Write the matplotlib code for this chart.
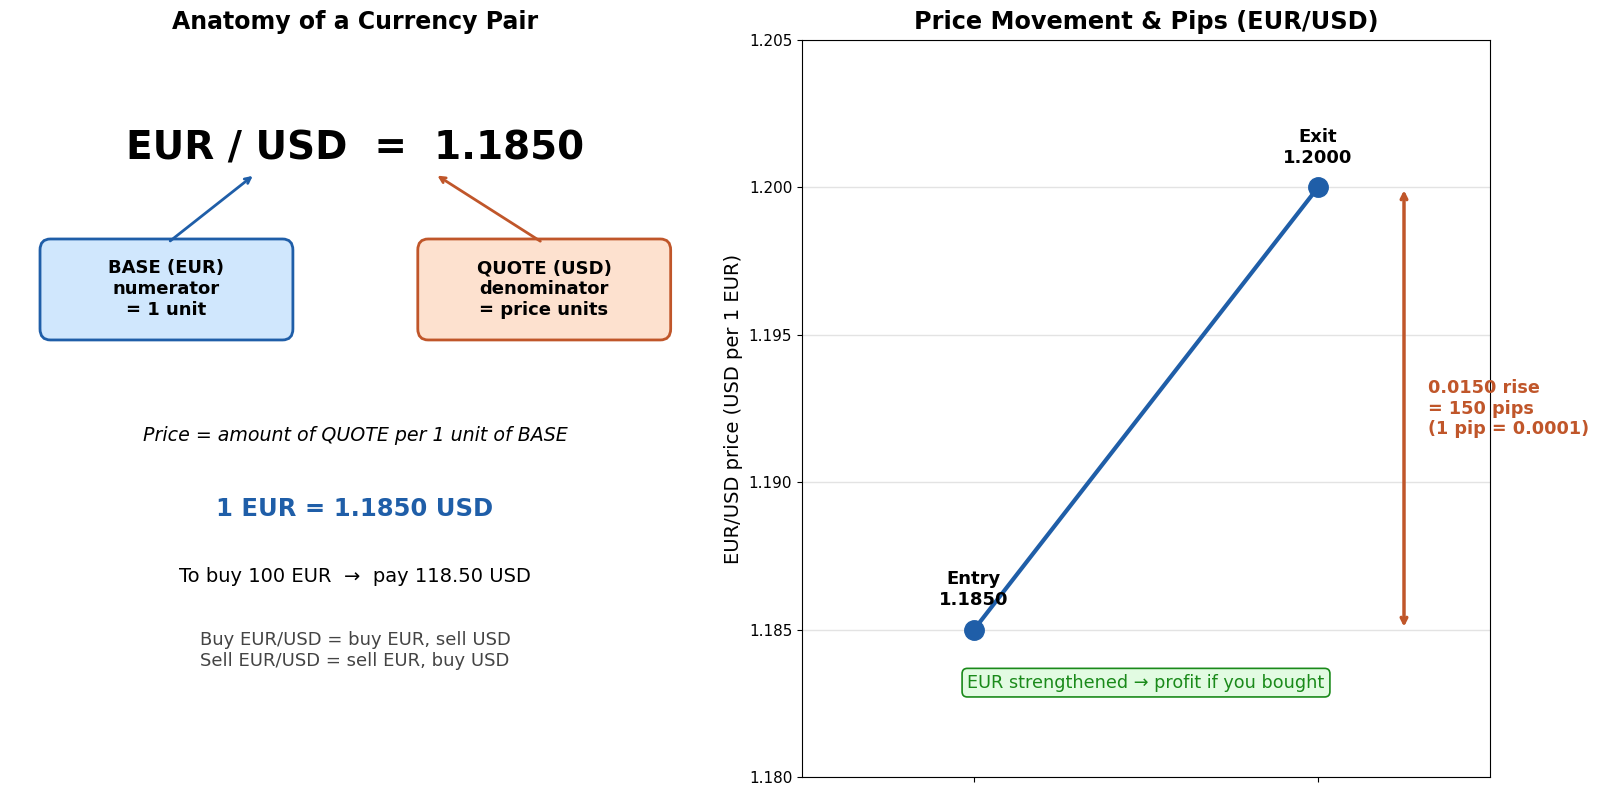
import matplotlib.pyplot as plt
from matplotlib.patches import FancyBboxPatch

# data
points = ["Entry", "Exit"]
prices = [1.1850, 1.2000]
pip_size = 0.0001
pair = "EUR / USD"
rate = 1.1850

blue = "#1f5ea8"
orange = "#c0562a"
green = "#1a8a1a"

fig = plt.figure(figsize=(16, 7.98), dpi=100)

# ---- left panel: anatomy ----
ax1 = fig.add_axes([10 / 1600, 21 / 798, 690 / 1600, 737 / 798])
ax1.set_xlim(0, 10)
ax1.set_ylim(0, 10)
ax1.axis("off")
ax1.set_title("Anatomy of a Currency Pair", fontsize=17, fontweight="bold", pad=8)

ax1.text(5.0, 8.53, f"{pair}  =  {rate:.4f}", ha="center", va="center",
         fontsize=28, fontweight="bold")

boxes = [
    (0.455, "BASE (EUR)\nnumerator\n= 1 unit", "#d0e7fd", blue, (2.29, 7.25), (3.55, 8.18)),
    (5.93, "QUOTE (USD)\ndenominator\n= price units", "#fde1cf", orange, (7.72, 7.25), (6.16, 8.18)),
]
for x0, label, fc, ec, start, end in boxes:
    box = FancyBboxPatch((x0, 5.95), 3.625, 1.33, boxstyle="round,pad=0.02,rounding_size=0.15",
                         fc=fc, ec=ec, lw=2)
    ax1.add_patch(box)
    ax1.text(x0 + 1.81, 6.62, label, ha="center", va="center", fontsize=13, fontweight="bold")
    ax1.annotate("", xy=end, xytext=start,
                 arrowprops=dict(arrowstyle="->", color=ec, lw=2))

ax1.text(5.0, 4.63, "Price = amount of QUOTE per 1 unit of BASE", ha="center", va="center",
         fontsize=13.7, style="italic")
ax1.text(5.0, 3.64, f"1 EUR = {rate:.4f} USD", ha="center", va="center",
         fontsize=17.5, fontweight="bold", color=blue)
ax1.text(5.0, 2.72, f"To buy 100 EUR  \u2192  pay {100 * rate:.2f} USD", ha="center", va="center",
         fontsize=14)
ax1.text(5.0, 1.72, "Buy EUR/USD = buy EUR, sell USD\nSell EUR/USD = sell EUR, buy USD",
         ha="center", va="center", fontsize=13, color="#444444")

# ---- right panel: price movement ----
ax2 = fig.add_axes([802 / 1600, 21 / 798, 688 / 1600, 737 / 798])
xs = list(range(len(prices)))
ax2.plot(xs, prices, color=blue, lw=3, marker="o", markersize=14, zorder=3)
for x, name, p in zip(xs, points, prices):
    ax2.annotate(f"{name}\n{p:.4f}", (x, p), xytext=(0, 15), textcoords="offset points",
                 ha="center", va="bottom", fontsize=13, fontweight="bold")

ax2.set_xlim(-0.5, 1.5)
ax2.set_ylim(1.180, 1.205)
ax2.set_xticks(xs)
ax2.set_xticklabels(["", ""])
ax2.set_yticks([1.180, 1.185, 1.190, 1.195, 1.200, 1.205])
ax2.tick_params(axis="y", labelsize=11)
ax2.yaxis.grid(True, color="#e3e3e3", lw=1)
ax2.set_axisbelow(True)
ax2.set_ylabel("EUR/USD price (USD per 1 EUR)", fontsize=14)
ax2.set_title("Price Movement & Pips (EUR/USD)", fontsize=17.3, fontweight="bold", pad=8)

ax2.annotate("", xy=(1.25, prices[1]), xytext=(1.25, prices[0]),
             arrowprops=dict(arrowstyle="<->", color=orange, lw=2.5))
diff = prices[1] - prices[0]
ax2.text(1.32, 1.1925, f"{diff:.4f} rise\n= {diff / pip_size:.0f} pips\n(1 pip = {pip_size:.4f})",
         ha="left", va="center", fontsize=12.7, fontweight="bold", color=orange, clip_on=False)

ax2.text(0.5, 1.1832, "EUR strengthened \u2192 profit if you bought", ha="center", va="center",
         fontsize=12.7, color=green,
         bbox=dict(boxstyle="round,pad=0.3", fc="#e2fbe2", ec=green, lw=1.2))

fig.savefig("out.png", dpi=100)
